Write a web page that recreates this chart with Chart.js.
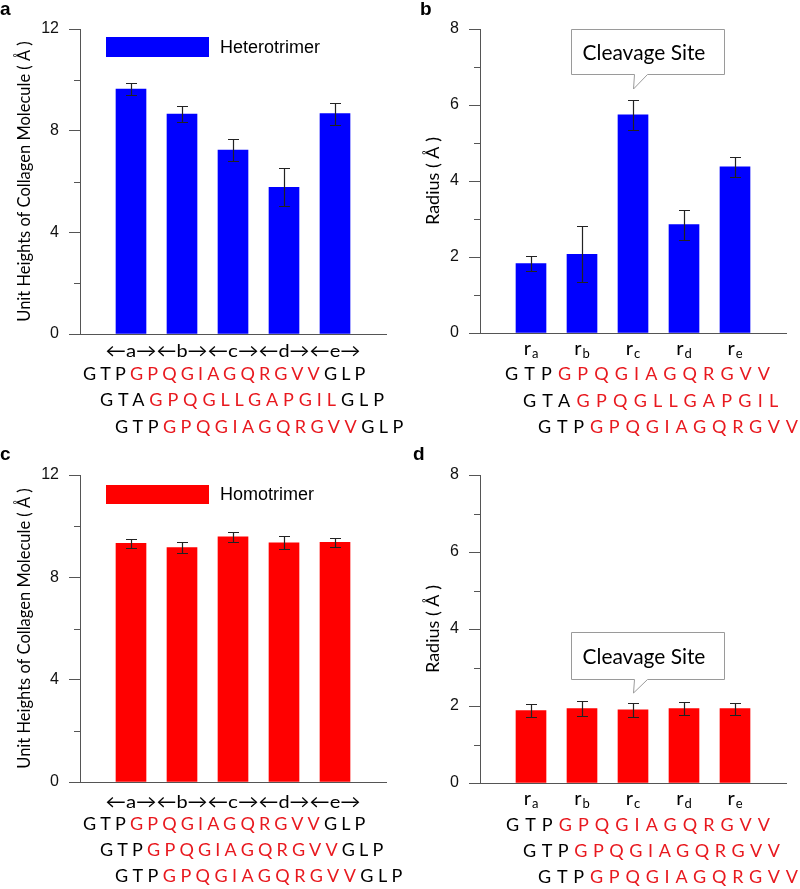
<!DOCTYPE html>
<html>
<head>
<meta charset="utf-8">
<script src="https://cdn.jsdelivr.net/npm/chart.js@4.4.1/dist/chart.umd.min.js"></script>
<style>
html,body{margin:0;padding:0;background:#fff;}
body{width:800px;height:889px;position:relative;overflow:hidden;}
.p{position:absolute;}
canvas{display:block;}
</style>
</head>
<body>
<div class="p" style="left:400px;top:0px"><canvas id="cb" width="400" height="447"></canvas></div>
<div class="p" style="left:0px;top:0px"><canvas id="ca" width="420" height="447"></canvas></div>
<div class="p" style="left:400px;top:447px"><canvas id="cd" width="400" height="442"></canvas></div>
<div class="p" style="left:0px;top:447px"><canvas id="cc" width="420" height="442"></canvas></div>
<script>
// ---------------- data ----------------
const segments = ['a', 'b', 'c', 'd', 'e'];
const heteroHeight = [9.64, 8.65, 7.24, 5.77, 8.67];
const heteroHeightErr = [0.24, 0.32, 0.43, 0.75, 0.43];
const heteroRadius = [1.83, 2.07, 5.74, 2.85, 4.37];
const heteroRadiusErr = [0.19, 0.74, 0.40, 0.39, 0.26];
const homoHeight = [9.33, 9.16, 9.58, 9.35, 9.37];
const homoHeightErr = [0.18, 0.22, 0.19, 0.26, 0.18];
const homoRadius = [1.88, 1.93, 1.90, 1.93, 1.93];
const homoRadiusErr = [0.16, 0.20, 0.19, 0.17, 0.16];
const heightTicks = [0, 4, 8, 12];
const radiusTicks = [0, 2, 4, 6, 8];
const seqHeteroFull = [['GTP', 'GPQGIAGQRGVV', 'GLP'], ['GTA', 'GPQGLLGAPGIL', 'GLP'], ['GTP', 'GPQGIAGQRGVV', 'GLP']];
const seqHeteroCore = [['GTP', 'GPQGIAGQRGVV', ''], ['GTA', 'GPQGLLGAPGIL', ''], ['GTP', 'GPQGIAGQRGVV', '']];
const seqHomoFull = [['GTP', 'GPQGIAGQRGVV', 'GLP'], ['GTP', 'GPQGIAGQRGVV', 'GLP'], ['GTP', 'GPQGIAGQRGVV', 'GLP']];
const seqHomoCore = [['GTP', 'GPQGIAGQRGVV', ''], ['GTP', 'GPQGIAGQRGVV', ''], ['GTP', 'GPQGIAGQRGVV', '']];
const heightTitle = 'Unit Heights of Collagen Molecule ( Å )';
const radiusTitle = 'Radius ( Å )';
const legendHetero = 'Heterotrimer';
const legendHomo = 'Homotrimer';
const calloutText = 'Cleavage Site';
const radiusPrefix = 'r';
const cleavageIndex = 2;

// ---------------- style ----------------
const BLUE = '#0000ff';
const RED = '#ff0000';
const SEQRED = '#e8191f';
const AXIS = '#555555';
const SANS = '"Liberation Sans", Arial, sans-serif';
const CAL = 'Lato, "Open Sans", sans-serif';

function drawSeq(ctx, parts, x0, x1, yMid) {
  ctx.save();
  ctx.font = '18px ' + CAL;
  ctx.textBaseline = 'middle';
  ctx.textAlign = 'left';
  if ('letterSpacing' in ctx) ctx.letterSpacing = '0px';
  const n = parts.join('').length;
  const natural = ctx.measureText(parts.join('')).width;
  const gap = (x1 - x0 - natural) / (n - 1);
  let x = x0;
  parts.forEach((p, i) => {
    if (!p) return;
    ctx.fillStyle = i === 1 ? SEQRED : '#000';
    if ('letterSpacing' in ctx) {
      ctx.letterSpacing = gap + 'px';
      ctx.fillText(p, x, yMid);
      ctx.letterSpacing = '0px';
      x += ctx.measureText(p).width + gap * p.length;
    } else {
      for (const c of p) { ctx.fillText(c, x, yMid); x += ctx.measureText(c).width + gap; }
    }
  });
  ctx.restore();
}

function buildPanel(cfg) {
  const canvas = document.getElementById(cfg.id);
  const W = canvas.width, H = canvas.height;
  const ticks = cfg.ticks;
  const yMax = ticks[ticks.length - 1];
  const major = ticks[1] - ticks[0];
  const minor = major / 2;
  const labels = ['', ...segments, ''];
  const data = [null, ...cfg.values, null];
  const errs = [null, ...cfg.errors, null];

  const deco = {
    id: 'deco_' + cfg.id,
    afterDatasetsDraw(chart) {
      const ctx = chart.ctx, xs = chart.scales.x, ys = chart.scales.y;
      ctx.save();
      ctx.strokeStyle = '#222';
      ctx.lineWidth = 1.2;
      for (let i = 0; i < data.length; i++) {
        if (data[i] == null) continue;
        const x = Math.round(xs.getPixelForValue(i)) + 0.5;
        const yt = Math.round(ys.getPixelForValue(data[i] + errs[i])) + 0.5;
        const yb = Math.round(ys.getPixelForValue(data[i] - errs[i])) + 0.5;
        ctx.beginPath();
        ctx.moveTo(x, yt); ctx.lineTo(x, yb);
        ctx.moveTo(x - 5.5, yt); ctx.lineTo(x + 5.5, yt);
        ctx.moveTo(x - 5.5, yb); ctx.lineTo(x + 5.5, yb);
        ctx.stroke();
      }
      const a = chart.chartArea;
      ctx.strokeStyle = AXIS; ctx.lineWidth = 1;
      ctx.beginPath();
      const yb0 = Math.round(a.bottom) + 0.5;
      ctx.moveTo(a.left, yb0); ctx.lineTo(a.right, yb0);
      ctx.stroke();
      ctx.restore();
    },
    afterDraw(chart) {
      const ctx = chart.ctx, xs = chart.scales.x, ys = chart.scales.y, a = chart.chartArea;
      ctx.save();
      // minor ticks
      ctx.strokeStyle = AXIS; ctx.lineWidth = 1;
      for (let v = minor; v < yMax; v += major) {
        const y = Math.round(ys.getPixelForValue(v)) + 0.5;
        ctx.beginPath(); ctx.moveTo(a.left - 6, y); ctx.lineTo(a.left, y); ctx.stroke();
      }
      // x labels
      ctx.fillStyle = '#000';
      const step = xs.getPixelForValue(2) - xs.getPixelForValue(1);
      segments.forEach((s, k) => {
        const cx = xs.getPixelForValue(k + 1);
        if (cfg.kind === 'height') {
          const txt = '←' + s + '→';
          ctx.font = '18px ' + CAL;
          ctx.textBaseline = 'middle';
          ctx.textAlign = 'center';
          const w = ctx.measureText(txt).width;
          const sx = step / w;
          ctx.save();
          ctx.translate(cx, cfg.tickY);
          ctx.scale(sx, 1);
          ctx.fillText(txt, 0, 0);
          ctx.restore();
        } else {
          ctx.textBaseline = 'alphabetic';
          ctx.textAlign = 'left';
          ctx.font = '20px ' + CAL;
          const wr = ctx.measureText(radiusPrefix).width;
          ctx.font = '13px ' + CAL;
          const ws = ctx.measureText(s).width;
          const x0 = cx - (wr + ws + 1) / 2;
          ctx.font = '20px ' + CAL;
          ctx.fillText(radiusPrefix, x0, cfg.tickY);
          ctx.font = '13px ' + CAL;
          ctx.fillText(s, x0 + wr + 1, cfg.tickY + 3);
        }
      });
      // sequences
      cfg.seq.forEach((parts, i) => drawSeq(ctx, parts, cfg.seqX[i][0], cfg.seqX[i][1], cfg.seqY[i]));
      // legend
      if (cfg.legend) {
        ctx.fillStyle = cfg.color;
        ctx.fillRect(106, cfg.legendBox[0], 103, cfg.legendBox[1] - cfg.legendBox[0]);
        ctx.fillStyle = '#000';
        ctx.font = '18px ' + SANS;
        ctx.textAlign = 'left';
        ctx.textBaseline = 'middle';
        ctx.fillText(cfg.legend, 220, (cfg.legendBox[0] + cfg.legendBox[1]) / 2 + 1);
      }
      // callout
      if (cfg.callout) {
        const tipX = Math.round(xs.getPixelForValue(cleavageIndex + 1)) + 0.5;
        const c = cfg.callout;
        const l = tipX - 62, r = tipX + 91, t = c.top + 0.5, b = c.bottom + 0.5;
        ctx.beginPath();
        ctx.moveTo(l, t); ctx.lineTo(r, t); ctx.lineTo(r, b);
        ctx.lineTo(tipX + 14, b); ctx.lineTo(tipX, c.tip); ctx.lineTo(tipX + 1, b);
        ctx.lineTo(l, b); ctx.closePath();
        ctx.fillStyle = '#fff'; ctx.fill();
        ctx.strokeStyle = '#9a9a9a'; ctx.lineWidth = 1; ctx.stroke();
        ctx.font = '20px ' + CAL;
        const w20 = ctx.measureText(calloutText).width;
        const fs = 20 * 123 / w20;
        ctx.font = fs.toFixed(2) + 'px ' + CAL;
        const capH = ctx.measureText('C').actualBoundingBoxAscent;
        ctx.fillStyle = '#000';
        ctx.textAlign = 'left';
        ctx.textBaseline = 'alphabetic';
        ctx.fillText(calloutText, l + 11, (c.top + c.bottom) / 2 + capH / 2 + 0.5);
      }
      // panel letter
      ctx.fillStyle = '#000';
      ctx.font = 'bold 19px ' + SANS;
      ctx.textAlign = 'left';
      ctx.textBaseline = 'alphabetic';
      ctx.fillText(cfg.letter, cfg.letterPos[0], cfg.letterPos[1]);
      ctx.restore();
    }
  };

  return new Chart(canvas, {
    type: 'bar',
    data: {
      labels: labels,
      datasets: [{
        label: cfg.legend || cfg.title,
        data: data,
        backgroundColor: cfg.color,
        borderWidth: 0,
        barThickness: 30
      }]
    },
    options: {
      responsive: false,
      animation: false,
      devicePixelRatio: 1,
      layout: { padding: { left: 0, top: cfg.area.top, right: W - cfg.area.right, bottom: H - cfg.area.bottom } },
      plugins: { legend: { display: false }, tooltip: { enabled: false } },
      scales: {
        x: {
          type: 'category',
          offset: false,
          grid: { display: false },
          ticks: { display: false },
          border: { display: true, color: AXIS, width: 1 },
          afterFit(s) { s.height = 0; }
        },
        y: {
          min: 0, max: yMax,
          ticks: {
            stepSize: minor,
            padding: 10,
            color: '#111',
            font: { family: SANS, size: 16 },
            callback: (v) => (v % major === 0 ? String(v) : '')
          },
          grid: {
            drawOnChartArea: false,
            drawTicks: true,
            tickLength: 11,
            tickWidth: 1,
            tickColor: (c) => (c.tick && c.tick.value % major === 0 ? AXIS : 'rgba(0,0,0,0)'),
            color: 'rgba(0,0,0,0)'
          },
          border: { display: true, color: AXIS, width: 1 },
          title: {
            display: true,
            text: cfg.title,
            color: '#000',
            font: { family: CAL, size: cfg.titleSize },
            padding: { top: cfg.titlePad, bottom: 0 }
          },
          afterFit(s) { s.width = cfg.area.left; }
        }
      }
    },
    plugins: [deco]
  });
}

buildPanel({
  id: 'ca', kind: 'height', letter: 'a', letterPos: [0, 15],
  values: heteroHeight, errors: heteroHeightErr, ticks: heightTicks, color: BLUE,
  title: heightTitle, titleSize: 16.5, titlePad: 15, legend: legendHetero, legendBox: [37, 57],
  area: { left: 80, top: 29, right: 386, bottom: 334 },
  tickY: 351,
  seq: seqHeteroFull, seqX: [[83, 365], [100, 383], [115, 403]], seqY: [374, 400.5, 427]
});
buildPanel({
  id: 'cb', kind: 'radius', letter: 'b', letterPos: [20, 15],
  values: heteroRadius, errors: heteroRadiusErr, ticks: radiusTicks, color: BLUE,
  title: radiusTitle, titleSize: 18, titlePad: 22,
  callout: { top: 29, bottom: 74, tip: 89 },
  area: { left: 80, top: 29, right: 386, bottom: 333 },
  tickY: 355,
  seq: seqHeteroCore, seqX: [[105, 370], [123, 378], [138, 398]], seqY: [374.5, 401, 427.5]
});
buildPanel({
  id: 'cc', kind: 'height', letter: 'c', letterPos: [0, 13],
  values: homoHeight, errors: homoHeightErr, ticks: heightTicks, color: RED,
  title: heightTitle, titleSize: 16.5, titlePad: 15, legend: legendHomo, legendBox: [38, 57],
  area: { left: 80, top: 28, right: 386, bottom: 335 },
  tickY: 355,
  seq: seqHomoFull, seqX: [[83, 365], [100, 383], [115, 402]], seqY: [377.5, 403, 429.5]
});
buildPanel({
  id: 'cd', kind: 'radius', letter: 'd', letterPos: [13, 13],
  values: homoRadius, errors: homoRadiusErr, ticks: radiusTicks, color: RED,
  title: radiusTitle, titleSize: 18, titlePad: 22,
  callout: { top: 185, bottom: 232, tip: 246 },
  area: { left: 80, top: 28, right: 386, bottom: 336 },
  tickY: 358,
  seq: seqHomoCore, seqX: [[106, 370], [123, 380], [138, 398]], seqY: [378, 404.5, 430.5]
});
</script>
</body>
</html>
